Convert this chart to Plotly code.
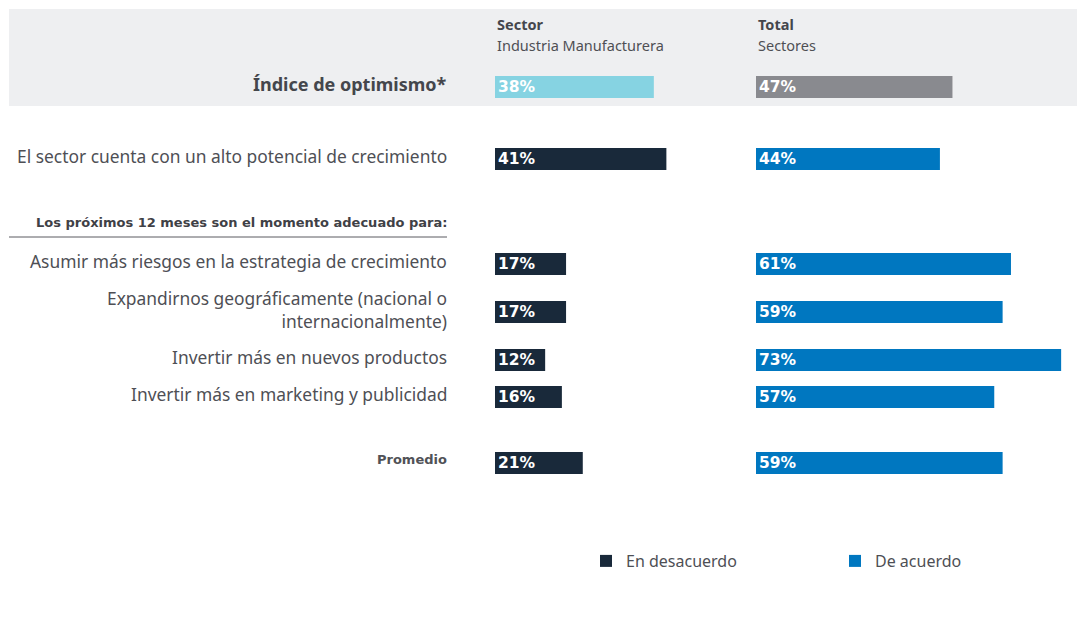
import plotly.graph_objects as go

# ---------------- data ----------------
index_label = "Índice de optimismo*"
index_sector = [38]
index_total = [47]

row_labels = [
    "El sector cuenta con un alto potencial de crecimiento",
    "Asumir más riesgos en la estrategia de crecimiento",
    "Expandirnos geográficamente (nacional o<br>internacionalmente)",
    "Invertir más en nuevos productos",
    "Invertir más en marketing y publicidad",
    "<b>Promedio</b>",
]
sector_values = [41, 17, 17, 12, 16, 21]   # En desacuerdo (Sector Industria Manufacturera)
total_values = [44, 61, 59, 73, 57, 59]    # De acuerdo (Total Sectores)

section_title = "Los próximos 12 meses son el momento adecuado para:"
series_names = ["En desacuerdo", "De acuerdo"]

# ---------------- layout constants ----------------
PAGE_W, PAGE_H = 1085, 617
OFF = 8                      # page body margin
W, H = PAGE_W - OFF, PAGE_H - OFF
INDEX_Y = 87
ROW_Y = [159, 264, 312, 360, 397, 463]
BAR_H = 22
PX_PER_PCT = 4.18
L0, L1 = 495, 745
R0, R1 = 756, 1078
LABEL_X = 449

def px(xp):
    """page x pixel -> paper fraction"""
    return (xp - OFF) / W

def py(yp):
    """page y pixel -> paper fraction (from bottom)"""
    return 1 - (yp - OFF) / H

C_DARK = "#19293a"
C_BLUE = "#0077c0"
C_CYAN = "#86d3e2"
C_GREY = "#898a8f"
C_BG = "#eeeff1"
C_TEXT = "#4e4f55"
FONT = "Noto Sans"
FONT_B = "DejaVu Sans"

fig = go.Figure()

bar_common = dict(
    orientation="h",
    width=BAR_H,
    textposition="inside",
    insidetextanchor="start",
    textfont=dict(color="white", size=15.5, family=FONT_B, weight="bold"),
    constraintext="none",
    hoverinfo="skip",
    marker_line_width=0,
)

fig.add_trace(go.Bar(x=index_sector, y=[INDEX_Y], xaxis="x", yaxis="y",
                     marker_color=C_CYAN, showlegend=False,
                     text=[f"{v}%" for v in index_sector], **bar_common))
fig.add_trace(go.Bar(x=index_total, y=[INDEX_Y], xaxis="x2", yaxis="y",
                     marker_color=C_GREY, showlegend=False,
                     text=[f"{v}%" for v in index_total], **bar_common))
fig.add_trace(go.Bar(x=sector_values, y=ROW_Y, xaxis="x", yaxis="y",
                     marker_color=C_DARK, name=series_names[0],
                     text=[f"{v}%" for v in sector_values], **bar_common))
fig.add_trace(go.Bar(x=total_values, y=ROW_Y, xaxis="x2", yaxis="y",
                     marker_color=C_BLUE, name=series_names[1],
                     text=[f"{v}%" for v in total_values], **bar_common))

ann = []
# header
ann.append(dict(text="<b>Sector</b>", x=px(L0), y=24, xref="paper", yref="y",
                xanchor="left", yanchor="middle", showarrow=False,
                font=dict(size=14.5, color="#44464c", family=FONT)))
ann.append(dict(text="Industria Manufacturera", x=px(L0), y=45, xref="paper", yref="y",
                xanchor="left", yanchor="middle", showarrow=False,
                font=dict(size=14.5, color=C_TEXT, family=FONT)))
ann.append(dict(text="<b>Total</b>", x=px(R0), y=24, xref="paper", yref="y",
                xanchor="left", yanchor="middle", showarrow=False,
                font=dict(size=14.5, color="#44464c", family=FONT)))
ann.append(dict(text="Sectores", x=px(R0), y=45, xref="paper", yref="y",
                xanchor="left", yanchor="middle", showarrow=False,
                font=dict(size=14.5, color=C_TEXT, family=FONT)))
ann.append(dict(text=f"<b>{index_label}</b>", x=px(LABEL_X), y=INDEX_Y - 3, xref="paper", yref="y",
                xanchor="right", yanchor="middle", showarrow=False,
                font=dict(size=18, color="#44464c", family=FONT)))
ann.append(dict(text=f"<b>{section_title}</b>", x=px(LABEL_X), y=222, xref="paper", yref="y",
                xanchor="right", yanchor="middle", showarrow=False,
                font=dict(size=13, color="#3f4146", family=FONT_B)))

for lab, yv in zip(row_labels, ROW_Y):
    is_bold = lab.startswith("<b>")
    ann.append(dict(text=lab, x=px(LABEL_X), y=yv - (3 if not is_bold else 4), xref="paper", yref="y",
                    xanchor="right", yanchor="middle", align="right", showarrow=False,
                    font=dict(size=13 if is_bold else 17.4, color="#505257" if is_bold else C_TEXT,
                              family=FONT_B if is_bold else FONT)))

shapes = [
    dict(type="rect", xref="paper", yref="y", x0=px(9), x1=px(1078), y0=9, y1=106,
         fillcolor=C_BG, line_width=0, layer="below"),
    dict(type="line", xref="paper", yref="y", x0=px(9), x1=px(447), y0=237, y1=237,
         line=dict(color="#5a5b60", width=1)),
]

fig.update_layout(
    width=W, height=H,
    margin=dict(l=0, r=0, t=0, b=0, autoexpand=False),
    paper_bgcolor="white", plot_bgcolor="rgba(0,0,0,0)",
    barmode="overlay",
    xaxis=dict(domain=[px(L0), px(L1)], range=[0, (L1 - L0) / PX_PER_PCT],
               visible=False, fixedrange=True),
    xaxis2=dict(domain=[px(R0), px(R1)], range=[0, (R1 - R0) / PX_PER_PCT],
                visible=False, fixedrange=True, anchor="y"),
    # y values are expressed in page pixels (top = OFF, bottom = PAGE_H)
    yaxis=dict(domain=[0, 1], range=[PAGE_H, OFF], visible=False, fixedrange=True),
    annotations=ann,
    shapes=shapes,
    showlegend=True,
    legend=dict(orientation="h", x=px(586), y=py(544), xanchor="left", yanchor="top",
                entrywidth=204, entrywidthmode="pixels", traceorder="normal",
                font=dict(size=16, color=C_TEXT, family=FONT),
                itemclick=False, itemdoubleclick=False, bgcolor="rgba(0,0,0,0)"),
    font=dict(family=FONT),
)

fig.write_html("out.html")
